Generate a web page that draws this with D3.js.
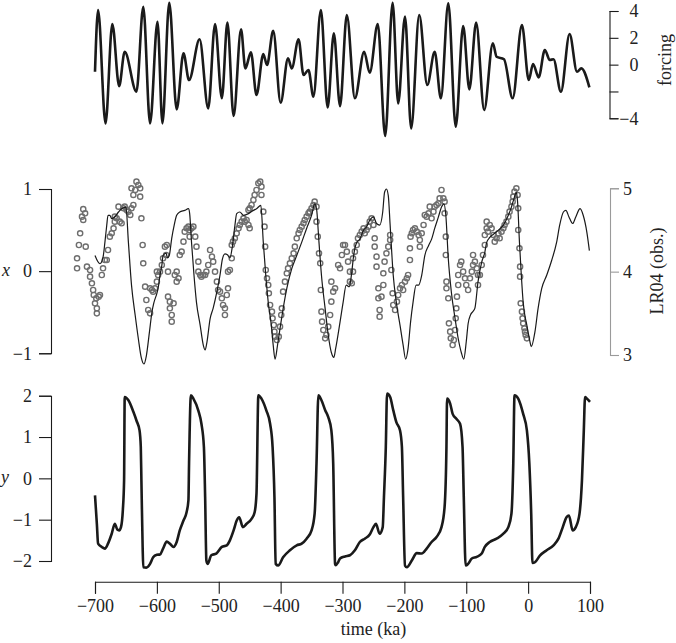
<!DOCTYPE html>
<html>
<head>
<meta charset="utf-8">
<script src="https://cdn.jsdelivr.net/npm/d3@7"></script>
<style>
body { margin: 0; background: #fff; }
text { font-family: "Liberation Serif", "DejaVu Serif", serif; font-size: 18px; fill: #222; }
</style>
</head>
<body>
<div id="chart"></div>
<script>
'use strict';

// astronomical forcing (turning points)
var forcingTime = [-700, -695, -683, -672, -661, -652, -633, -622, -611, -599, -591, -580, -568, -557, -548, -531, -517, -506, -495, -486,
  -476, -464, -457, -448, -439, -428, -422, -412, -400, -388, -382, -371, -363, -355, -347, -335, -324, -314, -304, -293,
  -280, -265, -256, -243, -231, -219, -210, -199, -189, -176, -163, -151, -141, -129, -117, -105, -95, -84, -71, -57,
  -51, -39, -25, -10, 1, 8, 17, 27, 35, 41, 53, 67, 79, 86, 99];
var forcingValue = [-0.53, 4.07, -4.38, 3.03, -1.60, 0.96, -2.02, 4.32, -4.38, 3.20, -4.38, 4.62, -3.34, 0.84, -1.15, 1.89, -3.26, 3.03, -2.51, 3.13,
  -3.83, 2.63, -0.28, 0.92, -2.26, 0.79, -0.03, 2.53, -2.84, 0.47, -0.28, 1.89, -0.77, -0.40, -2.39, 4.07, -3.19, 2.33, -3.09, 3.70,
  -2.51, 0.96, -0.60, 3.03, -5.32, 4.62, -2.89, 3.58, -4.75, 3.70, -1.52, 0.96, -2.51, 4.57, -4.63, 2.88, -1.84, 3.13, -3.38, 1.59,
  0.59, 0.40, -2.51, 2.96, -1.15, 0.05, -0.95, 1.09, 0.35, 0.40, -2.02, 2.28, -0.53, -0.28, -1.69];

// model state x (thin line, left axis of the middle panel)
var xTime = [-700, -692, -687, -684, -681, -679, -676, -673, -668, -662, -657, -650, -646, -641, -635, -630, -625, -621, -617, -612,
  -608, -605, -600, -598, -595, -592, -590, -585, -583, -580, -576, -572, -568, -563, -555, -549, -547, -544, -540, -536,
  -530, -525, -522, -519, -514, -509, -503, -498, -494, -490, -486, -482, -478, -474, -471, -466, -460, -452, -444, -439,
  -432, -428, -424, -420, -415, -412, -409, -405, -401, -396, -390, -382, -374, -366, -358, -350, -345, -342, -338, -334,
  -328, -323, -318, -314, -311, -304, -299, -294, -289, -285, -282, -277, -272, -266, -261, -256, -250, -245, -240, -235,
  -232, -229, -226, -223, -218, -213, -207, -202, -198, -194, -190, -186, -181, -177, -172, -167, -161, -156, -151, -145,
  -140, -136, -133, -129, -124, -118, -113, -108, -104, -100, -97, -93, -89, -86, -81, -75, -70, -67, -62, -56,
  -48, -40, -32, -27, -23, -19, -17, -14, -11, -8, -2, 3, 5, 11, 16, 22, 30, 38, 46, 51,
  57, 61, 66, 72, 77, 84, 89, 95, 99];
var xValue = [0.19, 0.09, 0.17, 0.35, 0.56, 0.68, 0.68, 0.64, 0.66, 0.72, 0.76, 0.78, 0.35, -0.17, -0.54, -0.82, -1.06, -1.13, -1.03, -0.74,
  -0.50, -0.39, -0.27, -0.21, -0.05, 0.07, 0.19, 0.22, 0.16, 0.19, 0.40, 0.56, 0.68, 0.72, 0.74, 0.76, 0.70, 0.35, -0.05, -0.38,
  -0.66, -0.90, -0.96, -0.86, -0.58, -0.45, -0.25, -0.05, 0.15, 0.21, 0.20, 0.16, 0.30, 0.55, 0.70, 0.72, 0.68, 0.70, 0.74, 0.76,
  0.80, 0.35, -0.05, -0.38, -0.66, -0.90, -1.07, -0.90, -0.70, -0.46, -0.21, 0.03, 0.19, 0.35, 0.52, 0.68, 0.82, 0.76, 0.35, -0.05,
  -0.46, -0.78, -0.99, -1.05, -0.94, -0.62, -0.38, -0.17, -0.19, -0.01, 0.19, 0.35, 0.39, 0.50, 0.54, 0.62, 0.66, 0.58, 0.56, 0.72,
  0.96, 1.00, 0.92, 0.56, -0.05, -0.38, -0.66, -0.90, -1.07, -0.94, -0.62, -0.38, -0.17, -0.17, -0.05, 0.19, 0.31, 0.39, 0.52, 0.66,
  0.78, 0.82, 0.68, 0.15, -0.26, -0.58, -0.82, -0.99, -1.07, -0.86, -0.64, -0.53, -0.49, -0.45, -0.13, 0.11, 0.23, 0.35, 0.41, 0.45,
  0.50, 0.56, 0.68, 0.78, 0.88, 0.96, 0.84, 0.35, -0.05, -0.38, -0.66, -0.86, -0.92, -0.74, -0.46, -0.21, -0.05, 0.13, 0.35, 0.56,
  0.72, 0.74, 0.66, 0.58, 0.66, 0.76, 0.68, 0.47, 0.25];

// LR04 stack (grey circles, right axis of the middle panel)
var obsTime = [-729, -729, -726, -724, -721, -719, -719, -716, -715, -713, -708, -708, -705, -703, -702, -700, -698, -697, -697, -694, -692,
  -689, -687, -684, -681, -679, -676, -673, -670, -668, -668, -665, -662, -660, -657, -654, -652, -649, -646, -643, -641,
  -641, -638, -638, -635, -633, -630, -627, -627, -625, -623, -622, -619, -617, -614, -611, -611, -608, -606, -603, -600,
  -600, -598, -595, -592, -590, -587, -585, -584, -582, -582, -579, -579, -576, -576, -573, -571, -568, -568, -565, -563,
  -560, -557, -555, -552, -549, -547, -547, -544, -541, -538, -536, -533, -533, -530, -528, -525, -522, -520, -517, -514,
  -511, -509, -506, -503, -501,
  -498, -495, -493, -490, -490, -487, -485, -485, -482, -479, -479, -477, -474, -471, -468, -466, -463, -460, -458, -455,
  -452, -452, -450, -450, -447, -444, -442, -439, -436, -433, -431, -431, -428, -426, -425, -424, -422, -420, -419, -417,
  -414, -413, -411, -410, -409, -406, -403, -401, -399, -398, -396, -393, -390, -388, -385, -382, -379, -377, -374, -371,
  -369, -366, -363, -361, -358, -355, -353, -350, -347, -345, -342, -342, -340, -338, -336, -335, -334, -333, -331, -328,
  -326, -323, -320, -318, -318, -315, -312, -307, -304, -301, -299,
  -296, -293, -291, -288, -288, -285, -283, -283, -280, -277, -275, -272, -269, -266, -264, -261, -258, -256, -253, -250,
  -248, -248, -245, -245, -242, -242, -240, -240, -237, -234, -234, -232, -229, -226, -223, -223, -221, -219, -218, -215,
  -212, -210, -207, -204, -202, -199, -196, -194, -191, -191, -190, -188, -186, -183, -180, -177, -175, -175, -172, -169,
  -167, -164, -161, -159, -156, -153, -151, -148, -145, -143, -140, -137, -135, -135, -133, -133, -132, -132, -129, -128,
  -126, -125, -122, -120, -118, -117, -116, -115, -113, -113, -110, -108, -105, -102, -100, -97,
  -94, -91, -89, -89, -86, -83, -81, -81, -78, -75, -73, -70, -70, -67, -67, -65, -62, -59, -56, -54,
  -51, -48, -46, -43, -40, -38, -35, -32, -30, -27, -25, -24, -22, -19, -17, -16, -16, -14, -13, -13,
  -12, -10, -9, -8, -6, -5, -4, -2];
var obsValue = [4.16, 4.04, 4.32, 4.46, 4.66, 4.75, 4.62, 4.70, 4.30, 4.06, 4.02, 3.94, 3.86, 3.78, 3.72, 3.62, 3.68, 3.56, 3.50, 3.70, 3.72,
  3.96, 4.04, 4.14, 4.14, 4.26, 4.42, 4.46, 4.52, 4.60, 4.66, 4.64, 4.78, 4.60, 4.58, 4.76, 4.78, 4.74, 4.72, 4.68, 4.76,
  5.00, 4.80, 4.92, 4.98, 5.08, 5.04, 5.00, 4.90, 4.64, 4.32, 4.10, 3.82, 3.66, 3.54, 3.50, 3.80, 3.78, 3.76, 3.80, 3.88,
  4.00, 3.96, 4.00, 4.08, 4.16, 4.30, 4.20, 4.32, 4.00, 3.70, 3.64, 3.56, 3.48, 3.40, 3.62, 3.96, 4.00, 3.88, 3.92, 4.20,
  4.24, 4.36, 4.48, 4.52, 4.54, 4.50, 4.42, 4.52, 4.54, 4.42, 4.30, 4.12, 4.00, 3.96, 3.94, 3.96, 3.96, 4.00, 4.08, 4.26,
  4.18, 4.12, 4.00, 3.88, 3.78,
  3.76, 3.68, 3.60, 3.48, 3.56, 3.72, 3.80, 4.00, 4.02, 4.16, 4.32, 4.36, 4.40, 4.46, 4.52, 4.56, 4.60, 4.64, 4.60, 4.62,
  4.56, 4.74, 4.52, 4.76, 4.80, 4.86, 4.92, 4.98, 5.06, 5.08, 5.02, 4.92, 4.72, 4.54, 4.30, 4.02, 3.92, 3.84, 3.74, 3.60,
  3.52, 3.44, 3.36, 3.28, 3.22, 3.18, 3.22, 3.34, 3.48, 3.56, 3.76, 3.88, 3.98, 4.04, 4.10, 4.16, 4.22, 4.30, 4.40, 4.46,
  4.50, 4.54, 4.58, 4.62, 4.66, 4.70, 4.72, 4.76, 4.80, 4.84, 4.78, 4.60, 4.42, 4.22, 4.10, 3.78, 3.52, 3.40, 3.30, 3.20,
  3.24, 3.34, 3.48, 3.64, 3.88, 3.76, 3.80, 4.08, 4.04, 4.20, 4.32,
  4.32, 4.24, 4.12, 4.00, 3.88, 3.86, 4.00, 4.16, 4.24, 4.32, 4.40, 4.44, 4.48, 4.52, 4.46, 4.50, 4.54, 4.60, 4.64, 4.56,
  4.40, 4.30, 4.18, 4.06, 3.80, 3.68, 3.54, 3.46, 3.70, 3.84, 3.98, 4.12, 4.22, 4.30, 4.38, 4.44, 4.02, 3.74, 3.60, 3.54,
  3.64, 3.72, 3.80, 3.84, 3.78, 3.88, 3.92, 3.96, 4.14, 4.28, 4.42, 4.46, 4.50, 4.52, 4.48, 4.44, 4.38, 4.30, 4.46, 4.56,
  4.68, 4.66, 4.70, 4.78, 4.64, 4.72, 4.78, 4.80, 4.82, 4.88, 4.98, 4.88, 4.84, 4.70, 4.42, 4.20, 3.88, 3.80, 3.68, 3.38,
  3.28, 3.20, 3.12, 3.18, 3.30, 3.44, 3.56, 3.70, 3.84, 3.96, 4.08, 4.12, 4.00, 3.92, 3.84, 3.78,
  3.92, 4.00, 4.08, 4.20, 4.12, 4.04, 3.96, 3.84, 3.96, 4.08, 4.20, 4.32, 4.44, 4.52, 4.60, 4.48, 4.56, 4.52, 4.44, 4.36,
  4.40, 4.46, 4.40, 4.48, 4.52, 4.56, 4.60, 4.66, 4.72, 4.78, 4.84, 4.90, 4.96, 5.00, 4.92, 4.76, 4.50, 4.28, 4.06, 3.94,
  3.62, 3.52, 3.44, 3.38, 3.32, 3.28, 3.24, 3.20];

// model state y (bottom panel)
var yTime = [-700, -697, -695, -689, -684, -679, -673, -668, -664, -661, -658, -655, -653, -652, -646, -638, -633, -628, -626, -625,
  -623, -622, -617, -611, -606, -600, -595, -590, -584, -579, -573, -568, -563, -557, -552, -549, -548, -545, -541, -533,
  -528, -524, -522, -520, -518, -512, -504, -495, -487, -482, -476, -471, -467, -461, -455, -447, -442, -439, -436, -431,
  -423, -417, -413, -410, -408, -404, -396, -385, -374, -366, -358, -350, -345, -342, -339, -334, -328, -323, -318, -315,
  -312, -311, -307, -304, -296, -288, -280, -272, -264, -256, -250, -246, -240, -235, -233, -230, -228, -223, -218, -213,
  -207, -204, -202, -199, -196, -188, -180, -172, -164, -156, -148, -140, -135, -132, -131, -126, -122, -116, -110, -106,
  -104, -101, -97, -91, -83, -75, -70, -62, -51, -40, -32, -27, -24, -22, -16, -8, -2, 2, 5, 7,
  11, 19, 30, 41, 49, 56, 62, 66, 72, 77, 83, 87, 90, 92, 95, 100];
var yValue = [-0.41, -1.10, -1.58, -1.66, -1.70, -1.58, -1.34, -1.10, -1.24, -1.26, -1.18, -0.77, -0.05, 1.97, 1.89, 1.61, 1.40, 1.16, 0.76, -0.05,
  -1.66, -2.15, -2.16, -2.07, -1.91, -1.85, -1.84, -1.70, -1.53, -1.58, -1.66, -1.54, -1.26, -1.02, -0.82, -0.53, 0.36, 2.01, 1.93, 1.64,
  1.32, 0.76, -0.45, -1.99, -2.07, -1.86, -1.82, -1.66, -1.62, -1.50, -1.26, -1.02, -0.94, -1.18, -1.10, -0.98, -0.82, -0.37, 2.01, 1.93,
  1.64, 1.32, 0.76, -0.45, -2.07, -2.11, -1.91, -1.74, -1.62, -1.58, -1.46, -1.26, -0.85, 0.36, 2.01, 1.89, 1.65, 1.48, 1.16, 0.35,
  -2.07, -2.10, -2.03, -1.94, -1.89, -1.86, -1.74, -1.54, -1.46, -1.36, -1.18, -1.10, -1.34, -1.18, -0.45, 0.76, 2.05, 1.97, 1.65, 1.36,
  1.16, 0.76, -0.45, -2.11, -2.15, -1.99, -1.81, -1.82, -1.70, -1.54, -1.42, -1.18, -0.69, 0.76, 1.93, 1.81, 1.56, 1.44, 1.32, 0.76,
  -0.45, -2.11, -2.07, -1.94, -1.90, -1.82, -1.66, -1.54, -1.46, -1.34, -1.18, -0.86, 0.36, 2.01, 1.93, 1.56, 1.16, 0.35, -0.86, -2.05,
  -2.03, -1.87, -1.74, -1.62, -1.46, -1.18, -0.94, -0.90, -1.26, -1.18, -0.86, -0.05, 1.16, 1.97, 1.93, 1.85];

var timeTicks = [-700, -600, -500, -400, -300, -200, -100, 0, 100];
var forcingTicks = [4, 2, 0, -2, -4];
var forcingLabels = ['4', '2', '0', '', '\u22124'];
var xTicks = [1, 0, -1];
var obsTicks = [5, 4, 3];
var yTicks = [2, 1, 0, -1, -2];

var width = 676;
var height = 643;
var ink = '#1a1a1a';

var svg = d3.select('#chart')
  .append('svg')
  .attr('width', width)
  .attr('height', height);

var x = d3.scaleLinear().domain([-700, 100]).range([95, 590]);
var yForcing = d3.scaleLinear().domain([-4, 4]).range([118.3, 11]);
var yModel = d3.scaleLinear().domain([-1, 1]).range([353.3, 189]);
var yObs = d3.scaleLinear().domain([3, 5]).range([355, 188.3]);
var yVar = d3.scaleLinear().domain([-2, 2]).range([561, 395.7]);

function series(times, values) {
  return times.map(function(t, i) { return { t: t, v: values[i] }; });
}

function drawLine(data, scaleY, widthPx) {
  var line = d3.line()
    .x(function(d) { return x(d.t); })
    .y(function(d) { return scaleY(d.v); })
    .curve(d3.curveMonotoneX);
  svg.append('path')
    .datum(data)
    .attr('d', line)
    .attr('fill', 'none')
    .attr('stroke', ink)
    .attr('stroke-width', widthPx)
    .attr('stroke-linejoin', 'round');
}

function styleAxis(g, color) {
  g.select('.domain').attr('stroke', color).attr('stroke-width', 1.1);
  g.selectAll('.tick line').attr('stroke', color).attr('stroke-width', 1.1);
  g.selectAll('.tick text').attr('fill', '#222').style('font-size', '18px')
    .style('font-family', '"Liberation Serif", serif');
}

// top panel: forcing
drawLine(series(forcingTime, forcingValue), yForcing, 2.6);
var gF = svg.append('g')
  .attr('transform', 'translate(609.5,0)')
  .call(d3.axisRight(yForcing).tickValues(forcingTicks).tickSizeOuter(0).tickSize(9)
    .tickFormat(function(d, i) { return forcingLabels[i]; }));
styleAxis(gF, ink);
gF.selectAll('.tick text').attr('text-anchor', 'end').attr('x', 29);
svg.append('text')
  .attr('transform', 'translate(665,60) rotate(-90)')
  .attr('text-anchor', 'middle')
  .attr('dy', '0.35em')
  .text('forcing');

// middle panel: LR04 circles and model x
svg.append('g')
  .selectAll('circle')
  .data(series(obsTime, obsValue))
  .enter()
  .append('circle')
  .attr('cx', function(d) { return x(d.t); })
  .attr('cy', function(d) { return yObs(d.v); })
  .attr('r', 2.6)
  .attr('fill', 'none')
  .attr('stroke', '#6e6e6e')
  .attr('stroke-width', 1.4);

drawLine(series(xTime, xValue), yModel, 1.2);

var gX = svg.append('g')
  .attr('transform', 'translate(51,0)')
  .call(d3.axisLeft(yModel).tickValues(xTicks).tickSizeOuter(0).tickSize(12).tickPadding(7)
    .tickFormat(d3.format('d')));
styleAxis(gX, ink);

var gO = svg.append('g')
  .attr('transform', 'translate(610,0)')
  .call(d3.axisRight(yObs).tickValues(obsTicks).tickSizeOuter(0).tickSize(9).tickPadding(4)
    .tickFormat(d3.format('d')));
styleAxis(gO, '#9a9a9a');

svg.append('text')
  .attr('transform', 'translate(657,271) rotate(-90)')
  .attr('text-anchor', 'middle')
  .attr('dy', '0.35em')
  .text('LR04 (obs.)');
svg.append('text')
  .attr('x', 2)
  .attr('y', 271)
  .attr('dy', '0.3em')
  .style('font-style', 'italic')
  .text('x');

// bottom panel: model y
drawLine(series(yTime, yValue), yVar, 2.6);
var gY = svg.append('g')
  .attr('transform', 'translate(51,0)')
  .call(d3.axisLeft(yVar).tickValues(yTicks).tickSizeOuter(0).tickSize(12).tickPadding(7)
    .tickFormat(d3.format('d')));
styleAxis(gY, ink);
svg.append('text')
  .attr('x', 1)
  .attr('y', 478)
  .attr('dy', '0.3em')
  .style('font-style', 'italic')
  .text('y');

// time axis
var gT = svg.append('g')
  .attr('transform', 'translate(0,581.7)')
  .call(d3.axisBottom(x).tickValues(timeTicks).tickSizeOuter(0).tickSize(12).tickPadding(6)
    .tickFormat(d3.format('d')));
styleAxis(gT, ink);
svg.append('text')
  .attr('x', x(-300) + 31)
  .attr('y', 635)
  .attr('text-anchor', 'middle')
  .text('time (ka)');
</script>
</body>
</html>
